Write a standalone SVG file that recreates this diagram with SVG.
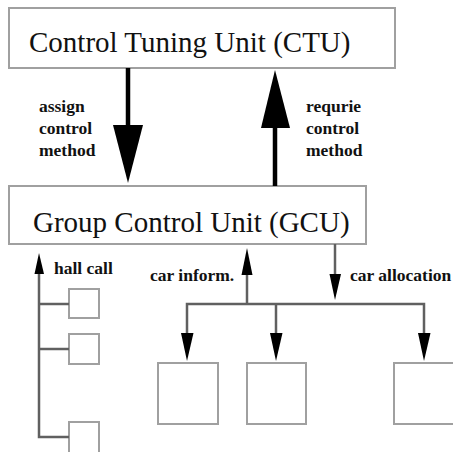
<svg xmlns="http://www.w3.org/2000/svg" width="453" height="452" viewBox="0 0 453 452">
<style>
.box{fill:#fff;stroke:#a0a0a0;stroke-width:2}
.title{font-family:"Liberation Serif",serif;font-size:29px;fill:#111}
.lbl{font-family:"Liberation Serif",serif;font-size:17.5px;font-weight:bold;fill:#111}
.big{stroke:#000;stroke-width:4.5;fill:none}
.con{stroke:#606060;stroke-width:2.5;fill:none}
.head{fill:#000}
</style>
<rect width="453" height="452" fill="#fff"/>
<g id="ctu"><rect class="box" x="9" y="8" width="386" height="60"/><text class="title" x="29" y="52">Control Tuning Unit (CTU)</text></g>
<g id="gcu"><rect class="box" x="9" y="186" width="357" height="58"/><text class="title" x="33" y="232">Group Control Unit (GCU)</text></g>
<g id="hall1"><rect class="box" x="69" y="289" width="30" height="29"/></g>
<g id="hall2"><rect class="box" x="69" y="334" width="30" height="30"/></g>
<g id="hall3"><rect class="box" x="69" y="422" width="30" height="34"/></g>
<g id="car1"><rect class="box" x="158" y="363" width="60" height="61"/></g>
<g id="car2"><rect class="box" x="247" y="363" width="59" height="61"/></g>
<g id="car3"><rect class="box" x="394" y="363" width="62" height="61"/></g>
<g id="connectors">
<line class="big" x1="128" y1="68" x2="128" y2="128"/>
<polygon class="head" points="113,125 143,125 128,183"/>
<line class="big" x1="275" y1="186" x2="275" y2="125"/>
<polygon class="head" points="261,128 290,128 275,70"/>
<polyline class="con" points="69,304 39,304"/>
<polyline class="con" points="69,349 39,349"/>
<polyline class="con" points="69,437 39,437 39,270"/>
<polygon class="head" points="34.5,274 44,274 39,253"/>
<line class="con" x1="247" y1="304" x2="247" y2="270"/>
<polygon class="head" points="241.5,275 252.5,275 247,248"/>
<line class="con" x1="335" y1="244" x2="335" y2="278"/>
<polygon class="head" points="329.5,274 341,274 335,300"/>
<polyline class="con" points="187,334 187,304 424,304 424,334"/>
<line class="con" x1="276" y1="304" x2="276" y2="334"/>
<polygon class="head" points="181,333 193.5,333 187,361"/>
<polygon class="head" points="270,333 282.5,333 276,361"/>
<polygon class="head" points="418,333 430.5,333 424,361"/>
</g>
<g id="labels">
<text class="lbl" x="39" y="112">assign</text>
<text class="lbl" x="39" y="134">control</text>
<text class="lbl" x="39" y="156">method</text>
<text class="lbl" x="306" y="112">requrie</text>
<text class="lbl" x="306" y="134">control</text>
<text class="lbl" x="306" y="156">method</text>
<text class="lbl" x="54" y="274">hall call</text>
<text class="lbl" x="150" y="281">car inform.</text>
<text class="lbl" x="350" y="281">car allocation</text>
</g>
</svg>
